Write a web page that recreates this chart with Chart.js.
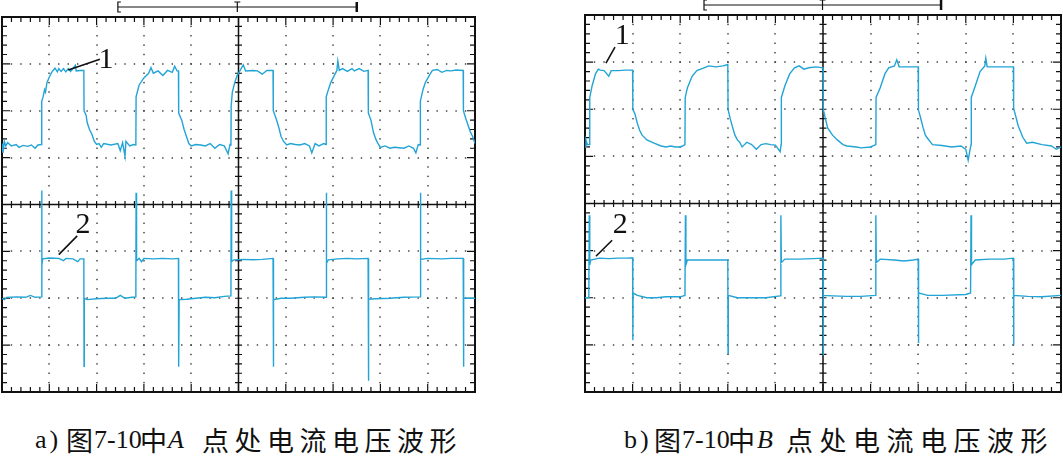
<!DOCTYPE html>
<html>
<head>
<meta charset="utf-8">
<script src="https://cdn.jsdelivr.net/npm/chart.js@4.4.0/dist/chart.umd.min.js"></script>
<style>
    body { margin: 0; background: #fff; width: 1063px; height: 467px; overflow: hidden; position: relative; }
    .box { position: absolute; top: 0; }
    .cap { position: absolute; top: 425px; height: 30px; font: 26px/30px "Liberation Serif", serif; white-space: nowrap; color: #111; }
    .cap span, .cap i { position: absolute; top: 0; }
    .cj { font: 27px/30px "Noto Sans CJK SC", sans-serif; }
</style>
</head>
<body>
<div class="box" style="left:0"><canvas id="chartA" width="480" height="400"></canvas></div>
<div class="box" style="left:580px"><canvas id="chartB" width="483" height="400"></canvas></div>
<div class="cap" style="left:0">
    <span style="left:35px;letter-spacing:3px">a)</span><span class="cj" style="left:66px">图</span><span style="left:94px">7-10</span><span class="cj" style="left:140px">中</span><i style="left:168px">A</i><span class="cj" style="left:202px;letter-spacing:5.5px">点处电流电压波形</span>
</div>
<div class="cap" style="left:0">
    <span style="left:624px;letter-spacing:3px">b)</span><span class="cj" style="left:654px">图</span><span style="left:682px">7-10</span><span class="cj" style="left:728px">中</span><i style="left:757px">B</i><span class="cj" style="left:786px;letter-spacing:6.5px">点处电流电压波形</span>
</div>
<script>
// ========================================
// 示波器波形 - 数据 (单位: 格)
// ========================================

// a) A点 电流 (曲线1)
const aCurX = [0, 0.02, 0.05, 0.08, 0.12, 0.2, 0.3, 0.36, 0.45, 0.55, 0.62, 0.7, 0.76, 0.83,
    0.84, 0.87, 0.9, 0.92, 0.95, 1.0, 1.05, 1.08, 1.12, 1.17, 1.2, 1.25, 1.3, 1.35, 1.4, 1.45, 1.5, 1.55, 1.57, 1.65, 1.73,
    1.735, 1.78, 1.8, 1.85, 1.9, 1.95, 2.0, 2.05, 2.1, 2.15, 2.3, 2.45, 2.5, 2.55, 2.6, 2.62, 2.7, 2.78, 2.83,
    2.835, 2.9, 3.0, 3.1, 3.15, 3.2, 3.3, 3.4, 3.5, 3.6, 3.65, 3.7, 3.73,
    3.735, 3.8, 3.85, 3.9, 3.95, 4.0, 4.1, 4.2, 4.3, 4.4, 4.5, 4.6, 4.7, 4.78, 4.82, 4.84,
    4.845, 4.87, 4.92, 4.97, 5.03, 5.1, 5.15, 5.3, 5.4, 5.5, 5.6, 5.73,
    5.735, 5.8, 5.85, 5.9, 5.95, 6.02, 6.1, 6.2, 6.3, 6.4, 6.5, 6.55, 6.62, 6.7, 6.8, 6.85,
    6.855, 6.9, 6.95, 7.0, 7.08, 7.1, 7.13, 7.2, 7.3, 7.4, 7.45, 7.55, 7.65, 7.74,
    7.745, 7.8, 7.85, 7.9, 7.95, 8.0, 8.1, 8.2, 8.3, 8.5, 8.6, 8.7, 8.75, 8.8, 8.84,
    8.845, 8.9, 8.95, 9.05, 9.1, 9.2, 9.3, 9.4, 9.5, 9.6, 9.75,
    9.755, 9.8, 9.85, 9.9, 9.95, 10.0];
const aCurY = [5.3, 5.1, 5.35, 5.25, 5.32, 5.25, 5.28, 5.22, 5.26, 5.24, 5.27, 5.2, 5.27, 5.28,
    6.2, 6.3, 6.45, 6.4, 6.6, 6.72, 6.82, 6.86, 6.91, 6.83, 6.9, 6.84, 6.9, 6.83, 6.9, 6.84, 6.9, 6.97, 6.85, 6.86, 6.86,
    6.0, 5.9, 5.75, 5.6, 5.5, 5.35, 5.28, 5.3, 5.22, 5.3, 5.27, 5.3, 5.15, 5.32, 5.03, 5.35, 5.25, 5.28, 5.27,
    6.3, 6.55, 6.7, 6.8, 6.92, 6.8, 6.85, 6.75, 6.86, 6.82, 6.95, 6.85, 6.85,
    5.95, 5.8, 5.6, 5.45, 5.3, 5.25, 5.28, 5.27, 5.25, 5.3, 5.2, 5.28, 5.25, 5.08, 5.28, 5.27,
    6.1, 6.4, 6.6, 6.75, 6.85, 6.98, 6.85, 6.86, 6.85, 6.78, 6.86, 6.86,
    6.0, 5.82, 5.65, 5.45, 5.35, 5.27, 5.3, 5.28, 5.27, 5.3, 5.25, 5.1, 5.3, 5.25, 5.3, 5.28,
    6.3, 6.45, 6.6, 6.7, 6.86, 7.06, 6.86, 6.9, 6.84, 6.9, 6.85, 6.9, 6.84, 6.86,
    5.95, 5.8, 5.55, 5.4, 5.3, 5.22, 5.25, 5.2, 5.22, 5.2, 5.25, 5.2, 5.1, 5.28, 5.27,
    6.2, 6.45, 6.6, 6.78, 6.86, 6.88, 6.82, 6.86, 6.85, 6.87, 6.86,
    6.0, 5.85, 5.7, 5.55, 5.45, 5.3];

// a) A点 电压 (曲线2)
const aVolX = [0, 0.05, 0.1, 0.3, 0.5, 0.6, 0.7, 0.83,
    0.84, 0.845, 0.86, 1.0, 1.2, 1.3, 1.35, 1.5, 1.6, 1.65, 1.73,
    1.735, 1.74, 1.8, 2.0, 2.2, 2.4, 2.5, 2.6, 2.75, 2.83,
    2.835, 2.845, 2.9, 2.95, 3.0, 3.2, 3.4, 3.6, 3.73,
    3.735, 3.745, 3.9, 4.1, 4.3, 4.5, 4.7, 4.84,
    4.845, 4.855, 4.9, 5.1, 5.3, 5.5, 5.73,
    5.735, 5.745, 5.9, 6.1, 6.4, 6.6, 6.85,
    6.855, 6.865, 6.9, 7.1, 7.3, 7.5, 7.74,
    7.745, 7.755, 7.9, 8.2, 8.5, 8.84,
    8.845, 8.855, 9.0, 9.3, 9.5, 9.75,
    9.755, 9.765, 10.0];
const aVolY = [2.0, 1.97, 2.02, 2.03, 2.02, 2.06, 2.02, 2.03,
    4.3, 2.7, 2.84, 2.86, 2.85, 2.8, 2.85, 2.84, 2.78, 2.84, 2.84,
    0.55, 2.0, 1.97, 1.99, 2.0, 2.0, 2.06, 2.0, 2.02, 2.03,
    4.25, 2.8, 2.85, 2.78, 2.85, 2.84, 2.85, 2.84, 2.85,
    0.54, 1.97, 1.98, 2.0, 2.02, 2.01, 2.04, 2.05,
    4.3, 2.78, 2.82, 2.83, 2.82, 2.83, 2.85,
    0.54, 1.97, 2.0, 2.0, 2.02, 2.03, 2.02,
    4.25, 2.75, 2.82, 2.84, 2.85, 2.84, 2.85,
    0.24, 1.98, 1.99, 2.0, 2.02, 2.03,
    4.25, 2.83, 2.85, 2.84, 2.85, 2.85,
    0.54, 2.0, 2.0];

// b) B点 电流 (曲线1)
const bCurX = [0, 0.02, 0.05, 0.09,
    0.1, 0.15, 0.22, 0.28, 0.32, 0.4, 0.5, 0.55, 0.7, 0.85, 1.0,
    1.005, 1.05, 1.1, 1.15, 1.2, 1.3, 1.45, 1.6, 1.7, 1.8, 1.9, 2.0, 2.05, 2.1,
    2.105, 2.15, 2.25, 2.35, 2.5, 2.6, 2.75, 2.9, 3.0,
    3.005, 3.05, 3.1, 3.15, 3.2, 3.25, 3.3, 3.4, 3.5, 3.6, 3.7, 3.8, 3.9, 4.0, 4.1, 4.12,
    4.125, 4.2, 4.3, 4.4, 4.5, 4.6, 4.7, 4.85, 5.0,
    5.005, 5.05, 5.1, 5.2, 5.3, 5.42, 5.5, 5.7, 5.8, 6.0, 6.11,
    6.115, 6.2, 6.3, 6.38, 6.5, 6.55, 6.6, 6.8, 7.0,
    7.005, 7.05, 7.1, 7.15, 7.2, 7.3, 7.5, 7.7, 7.9, 8.0, 8.05, 8.1, 8.11,
    8.115, 8.2, 8.3, 8.4, 8.42, 8.45, 8.6, 8.8, 9.0,
    9.005, 9.05, 9.1, 9.2, 9.28, 9.4, 9.6, 9.8, 9.9, 10.0];
const bCurY = [5.2, 5.35, 5.25, 5.25,
    6.25, 6.5, 6.75, 6.85, 6.83, 6.82, 6.7, 6.82, 6.82, 6.83, 6.83,
    6.0, 5.9, 5.7, 5.55, 5.45, 5.35, 5.28, 5.22, 5.2, 5.22, 5.2, 5.2, 5.22, 5.25,
    6.25, 6.45, 6.7, 6.82, 6.88, 6.92, 6.9, 6.92, 6.95,
    6.0, 5.8, 5.62, 5.45, 5.35, 5.3, 5.2, 5.3, 5.25, 5.15, 5.25, 5.27, 5.25, 5.24, 5.1, 5.25,
    6.25, 6.5, 6.75, 6.88, 6.92, 6.85, 6.88, 6.9, 6.88,
    6.0, 5.8, 5.6, 5.45, 5.35, 5.25, 5.22, 5.2, 5.18, 5.2, 5.25,
    6.25, 6.45, 6.75, 6.88, 6.92, 7.05, 6.9, 6.9, 6.9,
    5.98, 5.82, 5.62, 5.45, 5.38, 5.25, 5.23, 5.2, 5.22, 5.15, 4.92, 5.2, 5.25,
    6.25, 6.5, 6.8, 6.92, 7.08, 6.9, 6.9, 6.9, 6.9,
    6.02, 5.85, 5.65, 5.4, 5.28, 5.3, 5.25, 5.22, 5.15, 5.2];

// b) B点 电压 (曲线2)
const bVolX = [0, 0.08,
    0.09, 0.1, 0.12, 0.3, 0.5, 0.7, 0.9, 1.0,
    1.005, 1.01, 1.1, 1.3, 1.5, 1.7, 2.0, 2.1,
    2.11, 2.12, 2.15, 2.4, 2.6, 2.8, 3.0,
    3.005, 3.01, 3.2, 3.5, 3.8, 4.1,
    4.115, 4.125, 4.2, 4.5, 4.8, 5.0,
    5.005, 5.01, 5.2, 5.5, 5.8, 6.1,
    6.11, 6.12, 6.2, 6.5, 6.7, 6.9, 7.0,
    7.005, 7.01, 7.2, 7.5, 8.0, 8.1,
    8.11, 8.12, 8.2, 8.5, 8.8, 9.0,
    9.005, 9.01, 9.3, 9.6, 10.0];
const bVolY = [2.0, 2.0,
    3.75, 2.7, 2.8, 2.84, 2.83, 2.84, 2.84, 2.85,
    1.1, 2.1, 2.05, 2.0, 2.0, 2.02, 2.02, 2.05,
    3.75, 2.7, 2.8, 2.8, 2.8, 2.8, 2.8,
    0.82, 2.05, 2.0, 2.0, 2.0, 2.04,
    3.75, 2.75, 2.82, 2.82, 2.83, 2.84,
    0.78, 2.05, 2.04, 2.03, 2.03, 2.05,
    3.75, 2.75, 2.82, 2.8, 2.78, 2.8, 2.82,
    1.04, 2.1, 2.05, 2.05, 2.07, 2.1,
    3.75, 2.7, 2.8, 2.82, 2.82, 2.84,
    1.0, 2.05, 2.03, 2.02, 2.05];

const DIV_X = 10;
const DIV_Y = 8;
const TRACE_COLOR = '#22a4d6';

// 网格, 刻度, 标注
const scopeGrid = {
    id: 'scopeGrid',
    beforeDatasetsDraw(chart) {
        const { ctx, chartArea: a, scales: { x, y } } = chart;
        ctx.save();
        // 虚点网格
        ctx.fillStyle = '#333';
        for (let i = 1; i < DIV_X; i++) {
            if (i === DIV_X / 2) continue;
            const px = Math.round(x.getPixelForValue(i));
            for (let j = 1; j < DIV_Y * 5; j++) {
                ctx.fillRect(px - 0.7, y.getPixelForValue(j / 5) - 0.7, 1.4, 1.4);
            }
        }
        for (let j = 1; j < DIV_Y; j++) {
            if (j === DIV_Y / 2) continue;
            const py = Math.round(y.getPixelForValue(j));
            for (let i = 1; i < DIV_X * 5; i++) {
                ctx.fillRect(x.getPixelForValue(i / 5) - 0.7, py - 0.7, 1.4, 1.4);
            }
        }
        // 中心十字线
        ctx.strokeStyle = '#111';
        ctx.lineWidth = 1.5;
        const cx = x.getPixelForValue(DIV_X / 2);
        const cy = y.getPixelForValue(DIV_Y / 2);
        ctx.beginPath();
        ctx.moveTo(cx, a.top); ctx.lineTo(cx, a.bottom);
        ctx.moveTo(a.left, cy); ctx.lineTo(a.right, cy);
        ctx.stroke();
        ctx.lineWidth = 1.2;
        ctx.beginPath();
        for (let i = 1; i < DIV_X * 5; i++) {
            const px = x.getPixelForValue(i / 5);
            const len = i % 5 === 0 ? 8 : 5;
            ctx.moveTo(px, cy - 3.5); ctx.lineTo(px, cy + 3.5);
            ctx.moveTo(px, a.top); ctx.lineTo(px, a.top + len);
            ctx.moveTo(px, a.bottom); ctx.lineTo(px, a.bottom - len);
        }
        for (let j = 1; j < DIV_Y * 5; j++) {
            const py = y.getPixelForValue(j / 5);
            const len = j % 5 === 0 ? 8 : 5;
            ctx.moveTo(cx - 3.5, py); ctx.lineTo(cx + 3.5, py);
            ctx.moveTo(a.left, py); ctx.lineTo(a.left + len, py);
            ctx.moveTo(a.right, py); ctx.lineTo(a.right - len, py);
        }
        ctx.stroke();
        // 外框
        ctx.lineWidth = 2;
        ctx.strokeRect(a.left, a.top, a.right - a.left, a.bottom - a.top);
        ctx.restore();
    },
    afterDatasetsDraw(chart, args, opts) {
        const { ctx, chartArea: a, scales: { x, y } } = chart;
        ctx.save();
        ctx.strokeStyle = '#111';
        ctx.fillStyle = '#111';
        // 顶部时间标尺
        const by = a.top - 10;
        const x0 = x.getPixelForValue(opts.bar[0]);
        const x1 = x.getPixelForValue(opts.bar[1]);
        const xm = x.getPixelForValue((opts.bar[0] + opts.bar[1]) / 2);
        ctx.lineWidth = 1.2;
        ctx.beginPath();
        ctx.moveTo(x0 + 3, by - 5); ctx.lineTo(x0, by - 5); ctx.lineTo(x0, by + 5); ctx.lineTo(x0 + 3, by + 5);
        ctx.moveTo(x0, by); ctx.lineTo(x1, by);
        ctx.moveTo(xm - 3, by - 5); ctx.lineTo(xm + 3, by - 5);
        ctx.moveTo(xm, by - 5); ctx.lineTo(xm, by + 5);
        ctx.stroke();
        ctx.lineWidth = 2.5;
        ctx.beginPath();
        ctx.moveTo(x1, by - 5); ctx.lineTo(x1, by + 5);
        ctx.stroke();
        // 曲线编号
        ctx.lineWidth = 1.6;
        ctx.font = '30px "Liberation Serif", serif';
        ctx.textAlign = 'center';
        ctx.textBaseline = 'middle';
        opts.labels.forEach(l => {
            ctx.beginPath();
            ctx.moveTo(x.getPixelForValue(l.from[0]), y.getPixelForValue(l.from[1]));
            ctx.lineTo(x.getPixelForValue(l.to[0]), y.getPixelForValue(l.to[1]));
            ctx.stroke();
            ctx.fillText(l.text, x.getPixelForValue(l.at[0]), y.getPixelForValue(l.at[1]));
        });
        ctx.restore();
    }
};

function toPoints(xs, ys) {
    return xs.map((v, i) => ({ x: v, y: ys[i] }));
}

function makeScope(id, cur, vol, padding, pluginOpts) {
    const trace = (data) => ({
        data: data,
        borderColor: TRACE_COLOR,
        borderWidth: 1.4,
        pointRadius: 0,
        tension: 0,
        fill: false
    });
    return new Chart(document.getElementById(id), {
        type: 'line',
        data: { datasets: [trace(cur), trace(vol)] },
        plugins: [scopeGrid],
        options: {
            responsive: false,
            animation: false,
            layout: { padding: padding },
            plugins: {
                legend: { display: false },
                tooltip: { enabled: false },
                scopeGrid: pluginOpts
            },
            scales: {
                x: { type: 'linear', min: 0, max: DIV_X, display: false },
                y: { type: 'linear', min: 0, max: DIV_Y, display: false }
            }
        }
    });
}

makeScope('chartA', toPoints(aCurX, aCurY), toPoints(aVolX, aVolY),
    { left: 2, top: 17, right: 5, bottom: 8 },
    {
        bar: [2.45, 7.5],
        labels: [
            { text: '1', at: [2.2, 7.08], from: [1.4, 6.87], to: [2.07, 7.1] },
            { text: '2', at: [1.71, 3.57], from: [1.2, 2.93], to: [1.59, 3.33] }
        ]
    });

makeScope('chartB', toPoints(bCurX, bCurY), toPoints(bVolX, bVolY),
    { left: 5, top: 15, right: 2, bottom: 8 },
    {
        bar: [2.5, 7.48],
        labels: [
            { text: '1', at: [0.78, 7.55], from: [0.44, 6.98], to: [0.63, 7.32] },
            { text: '2', at: [0.74, 3.54], from: [0.23, 2.88], to: [0.57, 3.22] }
        ]
    });
</script>
</body>
</html>
